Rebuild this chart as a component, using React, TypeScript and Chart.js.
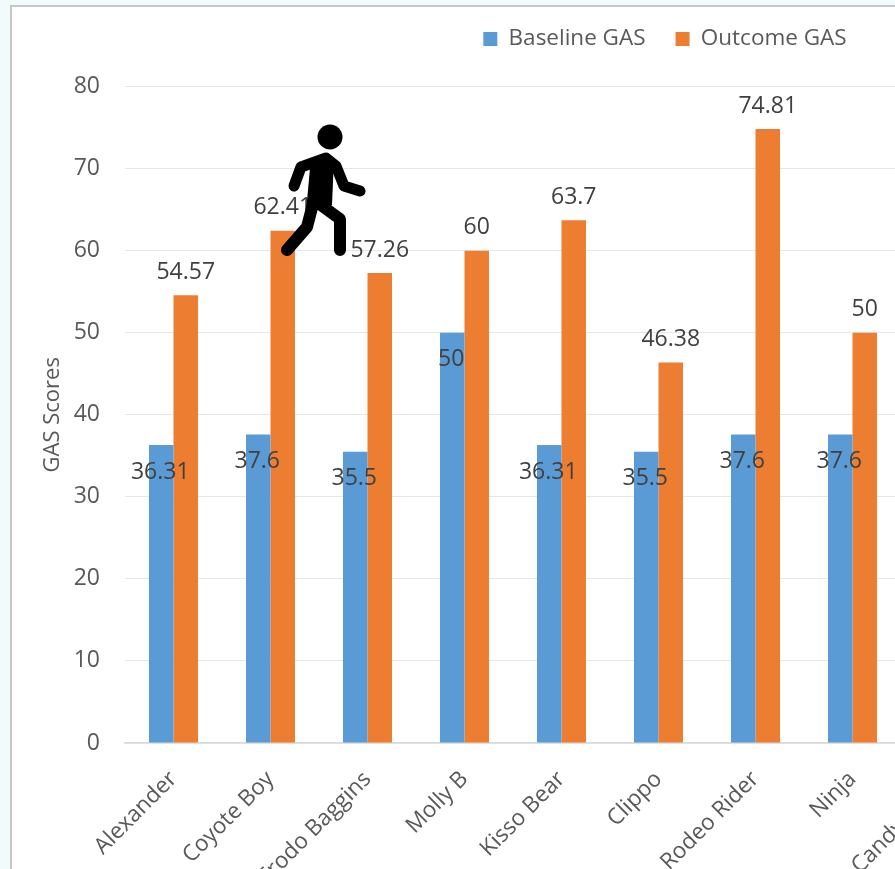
import React, { useEffect, useRef } from "react";
import { Chart, registerables } from "chart.js";

Chart.register(...registerables);

const categories = ["Alexander", "Coyote Boy", "Frodo Baggins", "Molly B", "Kisso Bear", "Clippo", "Rodeo Rider", "Ninja", "Sticky Candy Crush"];
const baselineGas = [36.31, 37.6, 35.5, 50, 36.31, 35.5, 37.6, 37.6, null];
const outcomeGas = [54.57, 62.41, 57.26, 60, 63.7, 46.38, 74.81, 50, null];

const FONT = '"Open Sans", sans-serif';

const valueLabels = {
  id: "valueLabels",
  afterDatasetsDraw(chart: any) {
    const { ctx } = chart;
    ctx.save();
    ctx.font = `23px ${FONT}`;
    ctx.fillStyle = "#404040";
    ctx.textAlign = "center";
    ctx.textBaseline = "middle";
    chart.data.datasets.forEach((ds: any, di: number) => {
      chart.getDatasetMeta(di).data.forEach((bar: any, i: number) => {
        const v = ds.data[i];
        if (v == null) return;
        const x = di === 0 ? bar.x - 1 : bar.x;
        const y = di === 0 ? bar.y + 27 : bar.y - 23;
        ctx.fillText(String(v), x, y);
      });
    });
    ctx.restore();
  },
};

const legendPlacement = {
  id: "legendPlacement",
  afterLayout(chart: any) {
    const legend = chart.legend;
    const dx = 665 - 10 - (legend.left + legend.right) / 2;
    const dy = 29 - (legend.top + legend.bottom) / 2;
    legend.left += dx;
    legend.right += dx;
    legend.top += dy;
    legend.bottom += dy;
  },
};

export default function App() {
  const ref = useRef<HTMLCanvasElement>(null);
  useEffect(() => {
    const chart = new Chart(ref.current as HTMLCanvasElement, {
      type: "bar",
      data: {
        labels: categories,
        datasets: [
          { label: "Baseline GAS", data: baselineGas, backgroundColor: "#5B9BD5", barPercentage: 1, categoryPercentage: 0.505 },
          { label: "Outcome GAS", data: outcomeGas, backgroundColor: "#ED7D31", barPercentage: 1, categoryPercentage: 0.505 },
        ],
      } as any,
      options: {
        animation: false,
        responsive: false,
        layout: { padding: { right: 22, top: 24, left: 0, bottom: 0 } },
        plugins: {
          tooltip: { enabled: false },
          legend: {
            position: "top",
            labels: {
              font: { family: FONT, size: 22.5 },
              color: "#595959",
              boxWidth: 14,
              boxHeight: 14,
              padding: 30,
            },
          },
        },
        scales: {
          x: {
            grid: { display: false },
            border: { color: "#d9d9d9", width: 1.5 },
            ticks: {
              autoSkip: false,
              maxRotation: 45,
              minRotation: 45,
              padding: 15,
              color: "#595959",
              font: { family: FONT, size: 22.5 },
            },
            afterFit(scale: any) {
              scale.height = 257;
            },
          },
          y: {
            min: 0,
            max: 80,
            grid: { color: "#e6e6e6", lineWidth: 1, drawTicks: false },
            border: { display: false },
            ticks: {
              stepSize: 10,
              padding: 25,
              color: "#595959",
              font: { family: FONT, size: 23 },
            },
            title: {
              display: true,
              text: "GAS Scores",
              color: "#595959",
              padding: { top: 30, bottom: 0 },
              font: { family: FONT, size: 22, weight: "normal" },
            },
            afterFit(scale: any) {
              scale.width = 115;
            },
          },
        },
      },
      plugins: [valueLabels, legendPlacement],
    } as any);
    return () => chart.destroy();
  }, []);

  return (
    <div style={{ position: "fixed", left: 0, top: 0, width: 895, height: 869, overflow: "hidden", background: "#f2fbfb" }}>
      <div style={{ position: "absolute", left: 10, top: 5, width: 1000, height: 1000, background: "#fff", borderLeft: "2px solid #c6c6c6", borderTop: "2px solid #c6c6c6", boxSizing: "border-box" }} />
      <canvas ref={ref} width={1010} height={1000} style={{ position: "absolute", left: 10, top: 0, width: 1010, height: 1000 }} />
      <svg width={895} height={869} style={{ position: "absolute", left: 0, top: 0 }}>
        <circle cx={330} cy={137} r={12.5} fill="#000" />
        <path d="M 294 186 L 301 167 L 326 158 L 336 166 L 344 186 L 360 191" fill="none" stroke="#000" strokeWidth={11} strokeLinecap="round" strokeLinejoin="round" />
        <path d="M 310 168 L 334 158 L 332 205 L 306 212 Z" fill="#000" />
        <path d="M 287 250 L 307 227 L 314 200 L 340 219 L 340 250" fill="none" stroke="#000" strokeWidth={12} strokeLinecap="round" strokeLinejoin="round" />
      </svg>
    </div>
  );
}
